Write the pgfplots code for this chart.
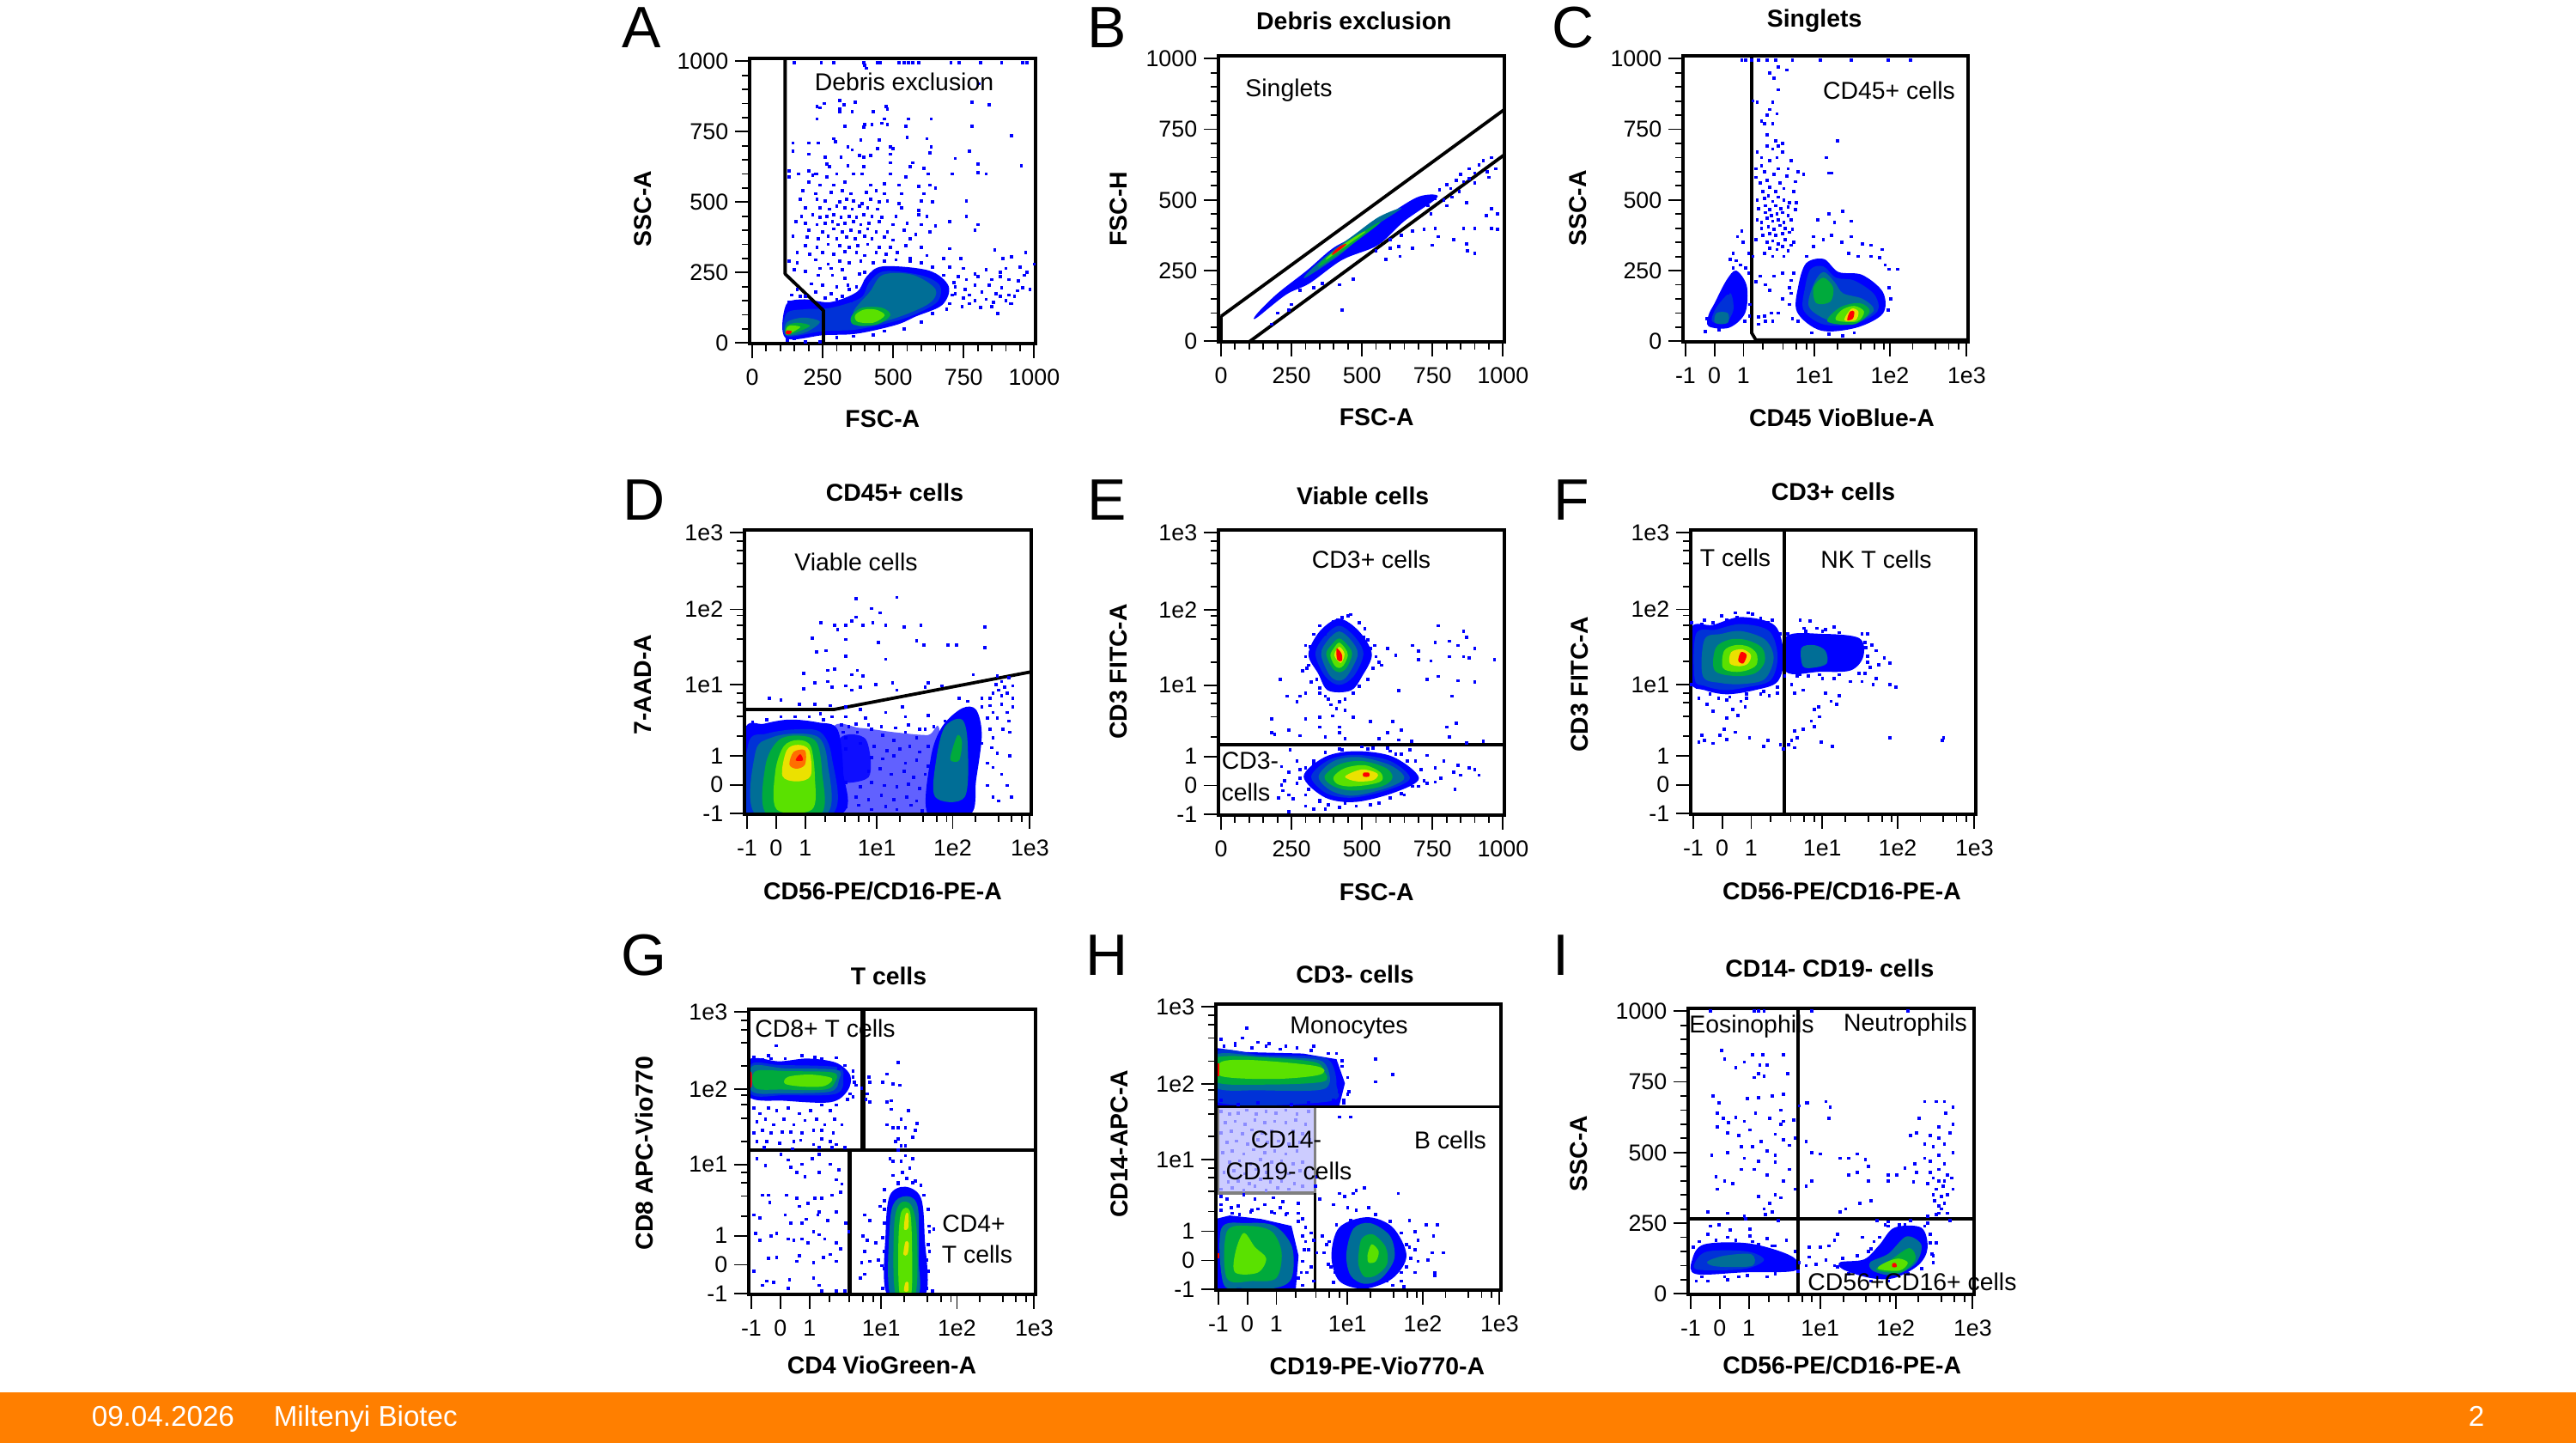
\documentclass[border=0pt]{standalone}
\usepackage{fontspec}
\setmainfont{Liberation Sans}
\usepackage{pgfplots}
\pgfplotsset{compat=1.18}

% FlowLogic style density colours, outside to inside
\definecolor{d1}{RGB}{0,0,255}
\definecolor{d2}{RGB}{0,50,215}
\definecolor{d3}{RGB}{0,110,150}
\definecolor{d4}{RGB}{0,170,60}
\definecolor{d5}{RGB}{90,225,0}
\definecolor{d6}{RGB}{235,225,0}
\definecolor{d7}{RGB}{255,110,0}
\definecolor{d8}{RGB}{255,0,0}
\definecolor{footer}{RGB}{255,127,0}

\newcommand\pts[1]{\addplot[color=d1,only marks,mark=square*,mark size=0.34pt,mark options={solid,fill=d1,draw=d1,line width=0pt}] coordinates {#1};}
\newcommand\lightpts[1]{\addplot[color=d1!45!white,only marks,mark=square*,mark size=0.34pt,mark options={solid,fill=d1!45!white,draw=d1!45!white,line width=0pt}] coordinates {#1};}
\newcommand\blob[2]{\addplot[draw=none,fill=#1,smooth cycle,tension=0.55] coordinates {#2};}
\newcommand\haze[2]{\addplot[draw=none,fill=d1,fill opacity=#1,smooth cycle,tension=0.5] coordinates {#2};}
\newcommand\gate[1]{\addplot[black,line width=0.95pt,line join=round] coordinates {#1};}
% text placed by reference pixel
\newcommand\tx[3]{\node[font=\fontsize{7.1}{8}\selectfont,inner sep=0pt] at ({#1*0.25pt},{(1680-#2)*0.25pt}) {#3};}
\newcommand\letter[3]{\node[font=\fontsize{17}{18}\selectfont,inner sep=0pt] at ({#1*0.25pt},{(1680-#2)*0.25pt}) {#3};}

\pgfplotsset{
  every axis title shift=0pt,
  panel/.style={
    scale only axis,anchor=south west,axis on top,
    xmin=-9,xmax=1005,ymin=-2,ymax=1010,
    axis line style={line width=1.1pt},
    tick align=outside,xtick pos=bottom,ytick pos=left,
    major tick length=4.25pt,minor tick length=2.25pt,
    tick style={black,line width=0.45pt},
    tick label style={font=\fontsize{6.7}{8}\selectfont},
    xticklabel style={inner sep=0pt,yshift=-3pt},
    yticklabel style={inner sep=0pt,xshift=-1.75pt},
    label style={font=\bfseries\fontsize{7.1}{8}\selectfont},
    title style={font=\bfseries\fontsize{7.1}{8}\selectfont},
  },
  linx/.style={xtick={0,250,500,750,1000},xticklabels={0,250,500,750,1000},minor xtick={50,100,150,200,300,350,400,450,550,600,650,700,800,850,900,950}},
  liny/.style={ytick={0,250,500,750,1000},yticklabels={0,250,500,750,1000},minor ytick={50,100,150,200,300,350,400,450,550,600,650,700,800,850,900,950}},
  logx/.style={xtick={0,103,206,459,727,1000},xticklabels={-1,0,1,1e1,1e2,1e3},minor xtick={276,347,395,430,541,622,671,706,808,890,936,971}},
  logy/.style={ytick={0,103,206,459,727,1000},yticklabels={-1,0,1,1e1,1e2,1e3},minor ytick={276,347,395,430,541,622,671,706,808,890,936,971}},
  xl/.style 2 args={xlabel style={at={(axis description cs:#1,-#2)},anchor=center}},
  yl/.style 2 args={ylabel style={at={(axis description cs:#1,#2)},anchor=center,rotate=0}},
  tl/.style 2 args={title style={at={(axis description cs:#1,#2)},anchor=center}},
}

\begin{document}
\begin{tikzpicture}
\useasboundingbox (0,0) rectangle (750pt,420pt);
\fill[footer] (0,0) rectangle (750pt,14.75pt);

% A
\begin{axis}[panel,linx,liny,at={(218.25pt,320pt)},width=83.25pt,height=83pt,xlabel={FSC-A},ylabel={SSC-A},xl={0.465}{0.265},yl={-0.372}{0.473}]
\blob{d1}{(118,18)(254,28)(371,33)(510,64)(580,94)(674,135)(697,201)(627,257)(464,272)(406,236)(371,181)(277,145)(184,155)(120,135)}
\blob{d2}{(120,25)(250,42)(372,48)(510,78)(600,112)(660,150)(665,205)(600,240)(470,255)(415,215)(385,160)(280,125)(190,120)(122,105)}
\blob{d3}{(382,59)(510,89)(627,140)(650,191)(569,242)(464,242)(417,181)(359,110)}
\blob{d3}{(122,28)(190,38)(240,75)(180,90)(122,72)}
\blob{d4}{(360,65)(440,65)(490,98)(460,125)(390,125)(352,95)}
\blob{d5}{(375,75)(430,72)(470,98)(440,118)(395,118)(365,98)}
\blob{d4}{(122,28)(175,45)(205,62)(160,72)(122,60)}
\blob{d5}{(122,30)(155,45)(170,58)(135,62)(122,52)}
\blob{d8}{(120,32)(135,32)(140,42)(122,44)}
\pts{(150,995)(245,995)(290,995)(395,995)(400,985)(405,975)(445,995)(455,995)(520,995)(540,995)(555,995)(570,995)(590,995)(705,995)(735,995)(810,995)(885,995)(960,995)(975,995)
(805,920)(255,850)(310,860)(325,845)(365,855)(310,830)(230,840)(240,835)(780,855)(840,845)(480,830)(475,840)(355,820)(310,820)(430,820)(230,795)(470,795)(555,795)(635,795)(780,770)(545,770)(395,765)(330,770)(400,775)(425,775)(460,780)(480,775)
(290,725)(295,715)(385,720)(450,720)(550,730)(620,725)(920,735)(145,710)(200,710)(235,710)(340,695)(355,685)(445,690)(490,695)(500,690)(635,695)(145,680)(200,670)(260,660)(315,660)(380,665)(395,660)(420,665)(490,670)(630,675)(770,680)(570,640)(800,635)(720,655)(955,630)(490,640)(395,625)(340,630)(265,635)(200,610)(230,600)(275,625)(560,625)(610,620)(710,600)(800,605)(830,600)(165,600)(130,610)(130,590)(215,595)(225,600)(265,590)(300,600)(360,600)(390,600)(490,600)(545,590)(625,600)
(200,570)(240,560)(290,560)(330,570)(420,560)(470,565)(520,560)(590,555)(630,560)(650,550)(180,540)(225,530)(280,535)(320,540)(350,530)(405,535)(440,540)(470,530)(530,530)(610,530)(170,510)(230,510)(260,505)(310,500)(335,510)(360,505)(390,495)(420,510)(450,500)(480,505)(520,495)(600,505)(640,500)(760,505)(190,480)(240,480)(275,475)(300,485)(330,480)(355,475)(380,485)(410,480)(445,475)(530,480)(590,470)(175,450)(215,455)(240,445)(265,450)(290,455)(315,445)(345,450)(370,445)(395,455)(425,450)(460,445)(510,450)(590,455)(620,450)(760,450)(155,430)(190,425)(230,420)(260,425)(285,430)(305,420)(330,425)(360,430)(385,420)(415,425)(450,430)(500,420)(550,425)(600,420)(650,415)(700,430)(800,420)(200,400)(250,395)(290,405)(320,395)(350,400)(380,395)(410,405)(440,395)(480,395)(540,400)(580,385)(630,395)(790,400)(145,380)(195,375)(235,370)(270,380)(300,370)(335,375)(365,370)(400,380)(425,370)(470,375)(500,365)(560,370)(190,345)(230,340)(270,350)(310,345)(345,340)(375,345)(410,350)(450,340)(490,340)(545,345)(600,340)(700,335)(160,320)(205,315)(250,320)(290,315)(330,325)(370,320)(400,310)(440,320)(475,315)(515,320)(560,300)(620,310)(680,300)
(130,290)(160,285)(225,295)(270,280)(310,290)(345,285)(385,290)(740,300)(860,330)(890,300)(920,305)(970,320)(1000,280)(150,260)(190,255)(240,265)(280,265)(320,260)(700,270)(750,265)(790,245)(830,260)(880,250)(900,265)(950,270)(975,250)(730,235)(760,225)(800,235)(850,225)(880,235)(910,225)(945,220)(965,240)(720,200)(755,190)(790,205)(815,180)(840,205)(865,175)(885,195)(910,170)(940,185)(960,195)(985,190)(720,175)(750,160)(770,170)(790,150)(830,155)(855,145)(880,165)(900,150)(915,140)(930,165)(700,140)(745,130)(770,140)(810,125)(850,130)(870,105)(920,140)(235,240)(285,240)(330,230)(380,245)(210,210)(250,205)(300,200)(340,205)(370,200)(225,180)(160,190)(280,175)(140,170)(190,165)(320,165)(125,10)(190,5)(240,5)(150,15)
(400,250)(430,285)(470,290)(510,295)(560,290)(600,285)(640,270)(680,240)(715,215)(710,170)(690,120)(640,105)(600,75)(540,50)(470,42)(430,28)(360,24)(300,20)(345,190)(350,150)(300,155)(260,160)(130,145)(170,165)}
\gate{(117,1010)(117,245)(253,115)(253,-2)}
\end{axis}

% B
\begin{axis}[panel,linx,liny,at={(354.75pt,320.5pt)},width=83.25pt,height=83.25pt,xlabel={FSC-A},ylabel={FSC-H},title={Debris exclusion},xl={0.553}{0.265},yl={-0.348}{0.465},tl={0.474}{1.123}]
\blob{d1}{(125,82)(231,165)(314,205)(430,288)(556,340)(650,425)(768,510)(702,512)(597,450)(493,380)(398,330)(304,250)(199,168)(128,98)}
\blob{d3}{(300,225)(420,305)(520,390)(640,470)(560,440)(470,375)(395,320)(315,250)}
\blob{d4}{(350,265)(440,325)(560,415)(540,410)(440,345)(360,285)}
\blob{d5}{(375,290)(440,335)(510,385)(495,382)(430,340)(380,300)}
\blob{d8}{(395,305)(430,330)(445,345)(420,335)(398,315)}
\pts{(775,535)(800,555)(815,540)(835,570)(850,590)(860,565)(880,610)(900,595)(915,625)(930,640)(945,600)(960,650)(975,610)(950,580)(900,560)(880,575)(845,530)(820,510)(790,500)(760,505)(735,480)(720,495)(745,450)(800,480)(870,490)(960,470)(980,450)(940,445)(860,400)(900,400)(960,400)(980,395)(825,360)(870,345)(875,320)(900,310)(600,360)(640,375)(680,390)(720,395)(760,400)(770,370)(585,290)(635,300)(680,330)(750,340)(630,335)(600,330)(470,220)(420,200)(430,110)(200,100)(250,130)(240,110)(180,60)(280,180)(330,190)(360,205)(510,330)(550,320)}
\gate{(0,88)(1005,820)}
\gate{(100,-2)(1005,660)}
\gate{(0,88)(0,-2)}
\end{axis}

% C
\begin{axis}[panel,logx,liny,at={(490pt,320.5pt)},width=83pt,height=83.25pt,xlabel={CD45 VioBlue-A},ylabel={SSC-A},title={Singlets},xl={0.557}{0.265},yl={-0.367}{0.467},tl={0.461}{1.123}]
\blob{d1}{(82,53)(155,48)(212,100)(218,195)(180,250)(145,215)(103,134)(82,93)}
\blob{d2}{(95,70)(140,62)(170,110)(160,170)(125,140)(102,105)}
\blob{d3}{(105,65)(150,65)(150,100)(110,100)}
\blob{d1}{(397,103)(481,38)(607,48)(702,98)(702,174)(628,235)(544,245)(492,291)(429,276)(401,195)}
\blob{d2}{(420,110)(490,60)(600,62)(682,105)(672,165)(600,215)(535,225)(490,265)(445,255)(425,190)}
\blob{d3}{(440,120)(520,70)(610,70)(670,110)(630,150)(560,170)(530,210)(490,245)(455,200)}
\blob{d4}{(465,135)(515,140)(525,190)(490,225)(455,190)}
\blob{d4}{(505,70)(600,60)(655,105)(620,135)(550,120)}
\blob{d5}{(535,75)(610,70)(635,105)(600,125)(555,110)}
\blob{d6}{(565,75)(605,75)(615,105)(590,115)}
\blob{d8}{(575,75)(595,80)(600,105)(585,105)}
\pts{(200,995)(215,995)(235,995)(260,995)(290,995)(320,995)(380,995)(480,995)(590,995)(720,995)(800,995)(330,970)(300,950)(360,960)(315,930)(330,890)(240,850)(255,845)(310,845)(300,820)(290,800)(325,805)(270,780)(280,770)(290,730)(310,770)(320,710)(330,690)(345,700)(255,670)(270,650)(290,690)(310,680)(325,650)(345,670)(375,640)(300,640)(270,620)(250,610)(280,600)(330,610)(365,610)(400,600)(420,590)(250,580)(265,560)(290,570)(315,590)(335,560)(360,585)(390,565)(300,545)(275,530)(320,530)(350,540)(385,530)(255,500)(280,505)(295,515)(310,495)(330,510)(350,500)(370,490)(395,490)(260,470)(285,480)(300,465)(320,480)(340,470)(365,475)(390,465)(285,455)(305,445)(325,450)(345,455)(365,445)(255,430)(270,420)(290,435)(310,425)(330,430)(350,420)(375,430)(270,400)(295,405)(315,395)(335,410)(355,400)(380,395)(275,375)(300,380)(320,375)(345,380)(370,385)(250,360)(290,350)(310,355)(330,345)(355,360)(385,350)(300,330)(325,325)(345,335)(365,320)(375,340)(310,300)(280,310)(350,300)(240,300)(225,310)(200,390)(185,370)(205,350)(170,310)(160,290)(180,285)(195,270)(170,260)(215,260)(225,240)(265,230)(250,210)(285,200)(300,180)(315,230)(345,240)(375,215)(370,190)(345,150)(330,100)(305,100)(280,90)(310,70)(285,70)(260,85)(260,60)(210,70)(540,710)(500,650)(510,595)(520,595)
(510,450)(560,460)(470,430)(530,420)(590,425)(455,370)(490,360)(520,375)(555,350)(590,370)(630,345)(660,340)(700,325)(690,295)(710,270)(725,255)(755,255)(660,300)(615,300)(580,310)(455,335)(430,300)(385,240)(375,170)(370,130)(380,80)(400,70)(450,30)(510,25)(560,20)(600,30)(720,110)(730,150)(725,190)(165,230)(150,170)(190,130)(90,60)(75,80)(70,35)(120,40)(230,130)(228,90)}
\gate{(235,1012)(235,30)(250,5)(1005,5)}
\end{axis}

% D
\begin{axis}[panel,logx,logy,at={(216.75pt,183pt)},width=83.5pt,height=82.75pt,xlabel={CD56-PE/CD16-PE-A},ylabel={7-AAD-A},title={CD45+ cells},xl={0.482}{0.269},yl={-0.353}{0.455},tl={0.524}{1.133}]
\haze{0.62}{(290,-2)(300,300)(400,305)(520,290)(640,280)(680,300)(690,-2)}
\blob{d1}{(-9,-2)(-9,295)(60,320)(150,335)(250,325)(320,300)(340,150)(330,-2)}
\blob{d1}{(640,-2)(650,200)(690,310)(760,375)(810,370)(830,280)(810,120)(790,-2)}
\haze{0.85}{(300,120)(330,270)(420,265)(430,130)}
\blob{d2}{(5,-2)(5,250)(70,285)(170,300)(260,290)(300,200)(300,-2)}
\blob{d3}{(30,-2)(30,220)(85,270)(170,285)(255,270)(285,180)(280,-2)}
\blob{d4}{(70,-2)(65,170)(110,260)(180,278)(245,255)(265,150)(260,-2)}
\blob{d5}{(105,15)(100,150)(130,240)(180,262)(225,240)(240,130)(230,15)}
\blob{d6}{(125,135)(140,225)(180,245)(220,225)(225,135)(175,115)}
\blob{d7}{(150,175)(165,220)(205,225)(205,175)(175,160)}
\blob{d8}{(172,190)(188,212)(198,190)}
\blob{d3}{(665,60)(670,200)(700,310)(760,335)(780,250)(770,60)}
\blob{d4}{(720,190)(725,225)(745,280)(760,255)(750,190)}
\pts{(385,765)(530,770)(440,730)(262,680)(310,670)(385,700)(470,715)(320,655)(350,670)(370,685)(410,670)(445,680)(490,670)(555,665)(615,670)(840,665)(230,625)(350,620)(465,610)(600,615)(625,600)(710,600)(740,600)(840,590)(245,575)(280,580)(350,560)(490,550)(200,500)(285,510)(310,515)(370,495)(390,510)(410,490)(515,465)(640,465)(200,445)(240,465)(285,470)(300,450)(350,455)(370,440)(400,450)(455,460)(530,440)(630,450)(690,455)(800,495)(885,490)(925,485)(900,470)(880,460)(910,450)(940,455)(890,440)(920,430)(870,430)(860,410)(900,420)(940,410)(830,410)(860,385)(900,390)(940,380)(780,400)(830,380)(870,360)(920,360)(850,340)(885,340)(925,330)(905,300)(860,300)(930,290)(870,270)(830,250)(865,235)(885,215)(930,205)(850,180)(870,165)(900,140)(920,100)(850,100)(870,60)(890,45)(935,60)(260,355)(300,345)(350,345)(420,340)(550,380)(80,410)(120,405)(185,390)(240,390)(295,385)(350,380)(400,370)(490,360)(560,345)(640,350)(700,330)(750,410)
(20,325)(70,335)(120,345)(170,345)(220,345)(270,335)(335,315)(340,290)(360,310)(385,320)(430,315)(475,310)(525,305)(570,315)(610,300)(660,310)
(350,270)(390,290)(440,300)(480,280)(520,260)(560,290)(600,270)(630,300)(350,230)(400,250)(450,240)(495,225)(540,230)(575,240)(610,220)(640,240)(440,200)(480,195)(520,205)(560,180)(600,190)(640,170)(430,150)(470,160)(510,140)(555,150)(590,130)(630,140)(350,110)(400,95)(440,110)(485,100)(530,95)(570,105)(610,90)(645,110)(340,70)(385,60)(430,50)(475,65)(520,50)(565,60)(600,45)(640,60)(350,25)(395,30)(440,15)(490,25)(530,15)(580,30)(620,10)}
\gate{(-9,371)(308,371)(1005,505)}
\end{axis}

% E
\begin{axis}[panel,linx,logy,at={(354.75pt,182.75pt)},width=83.25pt,height=83pt,xlabel={FSC-A},ylabel={CD3 FITC-A},title={Viable cells},xl={0.553}{0.269},yl={-0.348}{0.503},tl={0.505}{1.12}]
\blob{d1}{(419,695)(490,650)(535,569)(500,490)(460,440)(380,440)(345,500)(310,569)(350,650)}
\blob{d2}{(419,670)(475,630)(505,569)(470,490)(419,460)(370,490)(335,569)(365,630)}
\blob{d3}{(419,650)(460,620)(485,569)(450,495)(419,475)(385,495)(355,569)(380,620)}
\blob{d4}{(419,625)(450,600)(465,569)(445,520)(419,505)(395,520)(373,569)(390,600)}
\blob{d5}{(419,610)(440,590)(450,565)(435,530)(419,520)(402,530)(388,565)(400,590)}
\blob{d6}{(419,595)(438,570)(425,538)(402,565)}
\blob{d8}{(410,590)(428,570)(428,545)(412,550)}
\blob{d1}{(293,135)(370,205)(480,225)(610,205)(702,130)(620,80)(480,45)(370,60)}
\blob{d2}{(320,135)(385,195)(480,212)(600,190)(670,130)(600,90)(470,60)(375,75)}
\blob{d3}{(346,135)(400,190)(490,204)(600,175)(650,130)(590,95)(470,67)(390,85)}
\blob{d4}{(367,135)(420,178)(500,190)(585,165)(608,130)(570,100)(470,85)(400,100)}
\blob{d5}{(400,135)(440,165)(510,175)(565,150)(570,120)(520,105)(450,100)(410,110)}
\blob{d6}{(440,135)(500,160)(555,145)(540,122)(480,118)}
\blob{d8}{(505,135)(505,148)(525,148)(525,135)}
\pts{(460,710)(450,705)(430,700)(415,690)(400,685)(385,670)(370,640)(315,595)(320,570)(305,520)(290,510)(350,450)(320,470)(510,660)(520,620)(530,590)(560,540)(570,530)(590,590)(620,565)(680,600)(770,670)(860,650)(870,630)(810,615)(760,610)(840,600)(900,590)(700,580)(700,550)(745,545)(810,560)(860,560)(880,555)(970,550)(730,480)(770,490)(840,475)(900,470)(820,420)(630,440)(210,480)(235,420)(300,430)(280,420)(270,400)(350,430)(380,410)(420,400)(440,410)(390,390)(410,375)(440,370)(395,350)(350,345)(300,340)(470,345)(530,330)(180,340)(240,300)(350,310)(180,290)(420,310)(610,330)(640,300)(800,310)(835,325)(190,285)(280,280)(370,275)(420,290)(440,270)(560,270)(590,290)(630,265)(675,260)(810,275)(870,255)(930,260)(245,230)(270,190)(215,170)(240,150)(225,120)(215,105)(220,85)(205,60)(240,70)(255,55)(600,225)(640,215)(690,190)(730,210)(760,165)(790,190)(840,175)(880,165)(900,160)(780,130)(825,150)(850,140)(915,140)(730,110)(760,115)(700,100)(830,90)(640,75)(560,40)(480,30)(420,25)(380,35)(240,10)(300,30)(330,20)(370,20)(430,230)(500,240)(540,235)(590,235)(670,230)(280,160)(270,110)(300,70)(350,45)(330,180)
(300,600)(330,640)(350,670)(490,680)(505,630)(545,600)(550,560)(540,520)(520,480)(490,455)(470,430)(370,420)(340,480)(310,530)(300,560)(280,130)(300,165)(330,190)(370,220)(420,232)(520,232)(620,215)(660,190)(710,160)(720,120)(680,100)(650,70)(600,60)(530,35)(440,40)(350,50)(310,90)}
\gate{(-9,249)(1006,249)}
\end{axis}

% F
\begin{axis}[panel,logx,logy,at={(492.25pt,183pt)},width=83pt,height=82.75pt,xlabel={CD56-PE/CD16-PE-A},ylabel={CD3 FITC-A},title={CD3+ cells},xl={0.53}{0.269},yl={-0.389}{0.456},tl={0.5}{1.136}]
\blob{d1}{(-9,470)(-9,660)(70,672)(170,700)(290,670)(322,560)(300,470)(220,440)(120,425)(40,440)}
\blob{d1}{(330,505)(330,630)(460,640)(590,625)(605,560)(560,510)(450,505)}
\blob{d2}{(5,480)(10,640)(80,655)(170,675)(270,650)(300,560)(275,475)(190,450)(110,440)(40,455)}
\blob{d3}{(34,490)(40,620)(100,640)(170,650)(255,620)(286,555)(255,480)(180,462)(100,465)}
\blob{d4}{(76,510)(80,590)(130,620)(190,618)(245,590)(254,540)(220,500)(150,490)}
\blob{d5}{(105,520)(110,580)(150,600)(195,595)(225,570)(225,530)(190,510)(145,505)}
\blob{d6}{(130,535)(135,575)(175,585)(205,565)(195,535)(165,525)}
\blob{d8}{(160,545)(170,575)(190,565)(178,535)}
\blob{d3}{(390,525)(385,590)(430,600)(470,580)(475,535)(430,520)}
\pts{(155,700)(120,690)(70,680)(30,675)(240,695)(265,680)(195,715)(380,690)(415,685)(395,660)(440,660)(470,655)(500,665)(610,610)(620,640)(635,600)(650,580)(680,555)(620,540)(660,530)(700,535)(630,520)(610,500)(650,480)(640,460)(700,460)(720,450)(600,470)(560,470)(500,480)(460,480)(410,490)(370,490)(350,460)(360,430)(390,440)(470,430)(520,420)(490,400)(510,390)(445,380)(430,370)(420,330)(390,300)(360,295)(370,270)(350,260)(430,310)(450,345)(300,430)(270,420)(240,425)(190,410)(170,400)(120,405)(90,410)(50,390)(20,410)(70,365)(140,370)(185,380)(120,340)(160,350)(30,280)(110,300)(95,280)(150,290)(70,250)(40,260)(120,265)(200,270)(265,260)(250,240)(310,245)(320,230)(340,245)(360,235)(455,255)(495,240)(700,270)(890,270)(885,260)(20,255)
(-5,680)(40,690)(100,705)(150,715)(210,710)(280,690)(310,640)(335,600)(325,490)(300,450)(250,435)(190,425)(130,415)(60,425)(15,450)(-5,460)(335,640)(400,650)(460,650)(520,645)(600,640)(615,590)(620,560)(590,500)(520,495)(450,495)(380,495)}
\gate{(323,-2)(323,1010)}
\end{axis}

% G
\begin{axis}[panel,logx,logy,at={(218pt,43.25pt)},width=83.5pt,height=83pt,xlabel={CD4 VioGreen-A},ylabel={CD8 APC-Vio770},title={T cells},xl={0.464}{0.247},yl={-0.364}{0.495},tl={0.488}{1.117}]
\blob{d1}{(-9,700)(-9,830)(100,825)(200,835)(300,820)(350,775)(340,720)(280,680)(120,685)}
\blob{d2}{(0,708)(0,815)(100,812)(300,805)(325,770)(300,710)(120,705)}
\blob{d3}{(3,718)(3,808)(120,800)(300,795)(310,760)(280,718)(120,712)}
\blob{d4}{(15,730)(15,790)(130,790)(290,785)(295,750)(260,725)(110,725)}
\blob{d5}{(120,745)(130,770)(210,778)(285,765)(260,738)(190,735)}
\blob{d8}{(-9,735)(-9,785)(1,785)(1,735)}
\blob{d1}{(480,-2)(475,220)(490,350)(545,380)(600,340)(613,200)(615,-2)}
\blob{d3}{(491,-2)(490,250)(510,330)(560,345)(590,300)(592,120)(590,-2)}
\blob{d4}{(510,-2)(505,240)(525,320)(565,315)(585,220)(580,-2)}
\blob{d5}{(525,-2)(520,180)(530,290)(560,295)(568,180)(565,-2)}
\blob{d6}{(540,230)(545,280)(555,285)(555,235)}
\blob{d6}{(538,140)(545,185)(557,180)(552,140)}
\blob{d6}{(540,10)(545,40)(555,40)(555,10)}
\pts{(88,880)(520,820)(300,838)(250,835)(225,840)(70,835)(40,830)(310,800)(360,770)(370,740)(340,690)(290,690)(360,700)(390,730)(415,770)(480,780)(420,750)(465,750)(500,745)(525,740)(410,710)(405,690)(480,680)(495,685)(420,680)(555,650)(495,655)(530,620)(585,605)(480,600)(500,590)(520,590)(545,590)(580,580)(520,550)(510,540)(530,525)(545,525)(570,555)(10,660)(30,640)(60,660)(90,650)(130,660)(170,640)(210,650)(250,670)(280,650)(300,670)(20,610)(50,620)(80,600)(115,620)(150,600)(190,615)(230,620)(260,600)(295,620)(320,600)(10,570)(40,580)(70,570)(110,575)(140,575)(180,570)(220,580)(250,580)(290,570)(20,540)(55,540)(100,535)(150,540)(175,545)(220,530)(250,550)(280,540)(300,530)(330,520)(45,520)(145,515)(240,520)(285,520)
(20,480)(50,455)(105,495)(130,475)(140,450)(180,460)(215,480)(240,495)(160,430)(190,415)(240,430)(280,460)(300,405)(310,440)(320,390)(40,350)(60,350)(125,350)(160,340)(170,310)(200,320)(225,340)(250,340)(285,350)(315,360)(10,280)(30,270)(65,325)(120,280)(140,250)(180,250)(195,265)(220,220)(235,280)(240,290)(270,260)(300,290)(335,250)(15,215)(30,190)(70,205)(90,215)(130,195)(150,190)(180,195)(200,180)(240,210)(260,195)(300,180)(315,160)(60,125)(90,130)(160,115)(170,135)(220,110)(255,130)(280,140)(300,115)(10,80)(40,30)(55,45)(80,40)(130,20)(220,55)(240,30)(250,10)(300,10)(330,10)(135,50)(345,220)
(520,510)(490,480)(500,470)(530,470)(545,490)(570,480)(500,420)(535,430)(560,445)(520,390)(550,410)(580,400)(600,385)(400,280)(420,260)(395,205)(410,190)(440,180)(400,150)(390,110)(420,115)(385,55)(400,70)(450,120)(470,90)(630,220)(645,230)(625,175)(620,120)(610,50)(640,10)(620,20)(470,150)(470,250)(470,330)(455,310)
(10,840)(60,845)(120,835)(180,845)(250,830)(330,810)(360,790)(365,750)(350,710)(470,300)(465,200)(462,100)(465,20)(625,300)(628,240)(630,150)(625,80)(610,350)(470,370)(520,395)(570,395)}
\gate{(-9,511)(1006,511)}
\addplot[black,line width=1.5pt] coordinates {(396,511)(396,1010)};
\addplot[black,line width=1.4pt] coordinates {(348,511)(348,-2)};
\end{axis}

% H
\begin{axis}[panel,logx,logy,at={(354pt,44.5pt)},width=83pt,height=83.25pt,xlabel={CD19-PE-Vio770-A},ylabel={CD14-APC-A},title={CD3- cells},xl={0.566}{0.264},yl={-0.339}{0.511},tl={0.488}{1.105}]
\addplot[draw=none,fill=d1] coordinates {(-9,650)(-9,855)(100,840)(300,835)(420,815)(450,730)(430,650)};
\blob{d2}{(-9,665)(-9,840)(150,830)(340,825)(400,805)(420,725)(390,665)}
\blob{d3}{(-9,715)(-9,830)(150,825)(340,815)(385,790)(395,730)(350,705)(150,705)}
\blob{d4}{(-9,735)(-9,820)(180,820)(340,805)(375,775)(370,735)(150,725)}
\blob{d5}{(10,755)(10,805)(120,812)(350,790)(360,760)(200,745)}
\addplot[draw=none,fill=d8] coordinates {(-9,755)(-9,800)(3,800)(3,755)};
\addplot[draw=none,fill=d1,fill opacity=0.2] coordinates {(-9,342)(344,342)(344,647)(-9,647)};
\lightpts{(10,630)(40,620)(70,625)(100,635)(135,620)(170,630)(205,625)(240,635)(280,620)(320,630)(25,590)(60,595)(95,585)(130,600)(165,590)(200,595)(240,590)(275,600)(310,585)(10,555)(45,560)(85,550)(120,565)(155,555)(190,560)(225,550)(265,560)(300,550)(30,520)(65,525)(105,515)(140,530)(175,520)(215,525)(250,515)(290,520)(325,530)(15,485)(50,490)(90,480)(125,495)(165,485)(200,490)(240,480)(280,490)(40,450)(75,455)(115,445)(150,460)(190,450)(225,455)(265,445)(300,450)(20,415)(55,420)(95,410)(135,425)(170,415)(210,420)(250,410)(290,420)(35,380)(70,385)(110,375)(150,390)(185,380)(225,385)(270,375)(10,355)(50,360)(90,350)(130,365)(170,350)(210,360)(250,355)(300,365)}
\addplot[draw=none,fill=d1] coordinates {(-9,-2)(-9,250)(40,262)(150,250)(260,225)(285,120)(275,-2)};
\blob{d3}{(17,23)(10,215)(100,235)(200,225)(262,150)(260,40)(200,5)(80,5)}
\blob{d4}{(30,40)(30,205)(110,225)(190,205)(225,130)(205,40)(120,30)}
\blob{d5}{(60,60)(60,130)(90,200)(130,150)(170,110)(140,60)}
\addplot[draw=none,fill=d8] coordinates {(-9,110)(-9,130)(2,130)(2,110)};
\blob{d1}{(402,120)(430,220)(530,256)(620,220)(669,120)(620,40)(520,3)(430,30)}
\blob{d3}{(455,125)(480,215)(540,235)(610,190)(626,110)(580,40)(520,20)(470,50)}
\blob{d4}{(498,120)(510,180)(550,195)(595,150)(600,90)(560,50)(520,45)(500,80)}
\blob{d5}{(530,120)(545,160)(570,135)(560,100)(535,95)}
\pts{(100,925)(85,890)(140,875)(60,870)(10,885)(180,870)(240,860)(340,860)(440,810)(560,815)(620,760)(560,735)(430,700)(460,690)(410,670)(445,660)(10,670)(70,655)(140,660)(260,655)(320,660)(430,610)(470,610)(350,400)(345,365)(360,320)(430,340)(450,330)(480,340)(640,340)(410,300)(460,290)(490,280)(535,290)(10,330)(30,320)(90,335)(130,320)(195,325)(230,310)(285,305)(45,290)(120,280)(165,300)(220,290)(285,270)(300,250)(10,280)(50,270)(75,265)(115,275)(200,270)(245,270)(310,220)(330,200)(340,175)(310,170)(320,140)(350,130)(300,100)(330,80)(315,60)(285,40)(300,15)(340,30)(370,190)(385,160)(375,130)(390,90)(415,60)(410,25)(680,245)(740,230)(780,230)(700,205)(765,190)(710,175)(670,160)(700,140)(760,130)(710,100)(670,80)(745,105)(800,130)(770,60)(700,60)(650,30)(620,15)(660,10)(770,50)(490,350)(520,360)
(20,860)(60,865)(120,855)(170,860)(220,850)(280,855)(330,845)(390,835)(420,835)(440,790)(460,750)(465,700)(445,670)(10,300)(70,295)(140,285)(190,275)(240,265)(285,240)(300,190)(305,140)(295,60)(395,170)(400,80)(420,230)(470,245)(560,265)(610,240)(650,200)(680,150)(685,110)(650,60)(600,30)(450,25)(420,60)}
\addplot[gray,line width=0.9pt] coordinates {(-9,342)(344,342)(344,647)};
\addplot[gray,line width=0.9pt] coordinates {(-3,342)(-3,647)};
\gate{(-9,647)(1003,647)}
\gate{(344,342)(344,-2)}
\end{axis}

% I
\begin{axis}[panel,logx,liny,at={(491.5pt,43.25pt)},width=83.25pt,height=83.25pt,xlabel={CD56-PE/CD16-PE-A},ylabel={SSC-A},title={CD14- CD19- cells},xl={0.538}{0.249},yl={-0.381}{0.492},tl={0.495}{1.141}]
\blob{d1}{(5,120)(48,175)(210,178)(360,132)(370,82)(190,76)(18,70)}
\blob{d2}{(15,110)(60,150)(200,150)(260,120)(190,88)(30,85)}
\blob{d3}{(60,115)(120,135)(215,140)(220,100)(130,95)(75,100)}
\blob{d1}{(530,112)(615,122)(669,173)(722,234)(818,234)(840,162)(808,102)(722,56)(637,56)(541,86)}
\blob{d3}{(647,81)(722,66)(797,107)(818,173)(765,203)(701,142)(637,112)}
\blob{d4}{(658,86)(744,76)(797,122)(776,162)(712,122)}
\blob{d5}{(665,88)(740,82)(770,110)(735,125)(685,108)}
\blob{d8}{(715,95)(730,95)(728,108)(716,108)}
\pts{(70,1000)(225,1000)(240,1000)(260,1000)(430,1000)(770,1000)(110,860)(120,830)(160,800)(190,820)(220,845)(245,810)(255,845)(330,845)(270,810)(240,780)(225,765)(260,770)(345,780)(80,700)(100,675)(200,690)(240,695)(290,700)(330,705)(410,675)(385,665)(365,615)(320,650)(95,640)(115,620)(135,605)(160,625)(190,610)(230,640)(280,620)(320,600)(330,610)(95,590)(130,570)(170,560)(210,580)(250,540)(300,565)(330,545)(350,525)(180,520)(220,520)(270,505)(300,490)(75,490)(130,500)(190,480)(240,470)(300,465)(350,440)(90,415)(120,400)(150,390)(180,440)(225,440)(270,420)(330,400)(370,370)(95,370)(240,345)(280,320)(300,350)(320,340)(60,290)(130,285)(190,275)(265,280)(290,290)(260,300)(370,550)(415,675)(480,680)(495,660)(490,620)(410,540)(430,500)(460,495)(530,480)(560,480)(590,495)(620,475)(630,450)(590,430)(560,420)(630,400)(700,420)(730,420)(760,445)(810,620)(830,680)(870,680)(900,680)(930,660)(905,640)(930,600)(880,590)(800,570)(780,560)(850,560)(880,550)(920,570)(830,530)(860,520)(900,530)(930,500)(880,490)(830,480)(795,460)(850,470)(900,460)(880,440)(910,420)(850,430)(860,410)(880,400)(900,400)(925,410)(840,390)(870,370)(895,380)(930,370)(860,350)(890,345)(910,350)(865,330)(900,320)(880,310)(890,300)(880,285)(910,285)(840,275)(870,280)(920,260)(700,400)(790,395)(800,430)(430,400)(410,380)(640,330)(600,320)(530,290)(550,300)(310,260)(195,265)(100,245)(70,240)(140,225)(210,230)(60,210)(130,200)(210,205)(270,195)(240,175)(300,170)(340,190)(20,45)(60,45)(130,50)(170,60)(270,60)(420,130)(420,165)(460,165)(490,170)(510,190)(520,210)(480,120)(445,105)(410,100)(510,100)(660,260)(690,245)(700,255)(740,245)(780,260)(840,250)(850,210)(870,180)(860,135)(860,110)(610,200)(650,185)(630,150)
(10,165)(30,185)(90,190)(160,190)(220,185)(290,170)(370,150)(385,110)(380,80)(300,70)(200,65)(120,60)(40,60)(540,125)(590,135)(640,160)(670,200)(700,240)(760,245)(830,240)(850,180)(855,140)(820,90)(770,70)(700,45)(640,45)(560,70)(520,95)}
\gate{(-9,266)(1006,266)}
\gate{(380,-2)(380,1010)}
\end{axis}

\letter{747}{32}{A}
\letter{1289}{32}{B}
\letter{1832}{32}{C}
\letter{750}{582}{D}
\letter{1289}{582}{E}
\letter{1830}{582}{F}
\letter{750}{1112}{G}
\letter{1289}{1112}{H}
\letter{1818}{1112}{I}

\tx{1053}{95}{Debris exclusion}
\tx{1501}{105}{Singlets}
\tx{2200}{105}{CD45+ cells}
\tx{997}{654}{Viable cells}
\tx{1597}{651}{CD3+ cells}
\tx{1456}{886}{CD3-}
\tx{1451}{922}{cells}
\tx{2021}{649}{T cells}
\tx{2185}{651}{NK T cells}
\tx{961}{1197}{CD8+ T cells}
\tx{1134}{1425}{CD4+}
\tx{1138}{1460}{T cells}
\tx{1571}{1197}{Monocytes}
\tx{1498}{1327}{CD14-}
\tx{1501}{1363}{CD19- cells}
\tx{1689}{1327}{B cells}
\tx{2040}{1195}{Eosinophils}
\tx{2219}{1193}{Neutrophils}
\tx{2227}{1492}{CD56+CD16+ cells}

\node[white,font=\fontsize{8.3}{10}\selectfont,inner sep=0pt,anchor=base west] at (26.5pt,4.9pt) {09.04.2026};
\node[white,font=\fontsize{8.3}{10}\selectfont,inner sep=0pt,anchor=base west] at (79.5pt,4.9pt) {Miltenyi Biotec};
\node[white,font=\fontsize{8.3}{10}\selectfont,inner sep=0pt,anchor=base] at (721pt,4.9pt) {2};
\end{tikzpicture}
\end{document}
